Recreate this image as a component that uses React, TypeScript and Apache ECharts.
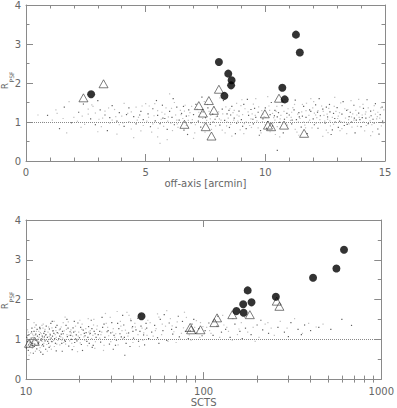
import React, { useEffect, useRef } from "react";
import * as echarts from "echarts";

// ---------- data ----------
const topXTicks = [0, 5, 10, 15];
const topYTicks = [0, 1, 2, 3, 4];
const bottomXTicks = [10, 100, 1000];
const logMinorTicks = [20, 30, 40, 50, 60, 70, 80, 90, 200, 300, 400, 500, 600, 700, 800, 900];

// top panel: off-axis [arcmin] vs R_PSF
const topCircles = [
  [2.72, 1.71], [8.06, 2.54], [8.45, 2.24], [8.59, 2.07], [8.57, 1.94], [8.29, 1.67],
  [11.28, 3.24], [11.44, 2.78], [10.71, 1.88], [10.81, 1.58],
];
const topTriangles = [
  [2.4, 1.62], [3.24, 1.98], [6.62, 0.94], [7.22, 1.42], [7.64, 1.55], [7.39, 1.23],
  [7.85, 1.3], [7.51, 0.88], [7.75, 0.64], [8.06, 1.84], [9.98, 1.21], [10.11, 0.92],
  [10.24, 0.88], [10.57, 1.61], [10.78, 0.92], [11.62, 0.71],
];
const topDotsDark = [
  [0.9, 1.17], [1.4, 0.83], [1.6, 1.38], [1.9, 0.98], [2.2, 1.25], [2.4, 1.46],
  [2.7, 1.08], [2.9, 0.93], [3.1, 1.31], [3.3, 1.18], [3.4, 0.78], [3.6, 1.42], [3.8, 1.02], [3.9, 1.24],
  [4.1, 0.89], [4.3, 1.36], [4.5, 1.14], [4.6, 0.95], [4.8, 1.27], [4.9, 1.06], [3.0, 1.55], [4.2, 1.19], [3.5, 1.11],
  [5.1, 1.21], [5.2, 0.88], [5.3, 1.34], [5.4, 1.03], [5.5, 1.17], [5.6, 0.96], [5.7, 1.43], [5.8, 1.09],
  [5.9, 0.81], [6.0, 1.27], [6.1, 1.12], [6.2, 0.93], [6.3, 1.38], [6.4, 1.05], [6.5, 1.22], [6.6, 0.79],
  [6.7, 1.15], [6.8, 1.31], [6.9, 0.98], [7.0, 1.19], [7.1, 1.45], [7.2, 1.02], [7.3, 0.87], [7.4, 1.26],
  [7.5, 1.11], [7.6, 1.36], [7.7, 0.94], [7.8, 1.2], [7.9, 1.07], [5.45, 1.55], [6.15, 1.6], [6.75, 0.68], [7.35, 1.64],
  [8.0, 1.15], [8.1, 0.92], [8.2, 1.33], [8.3, 1.04], [8.4, 1.21], [8.5, 0.86], [8.6, 1.4], [8.7, 1.1],
  [8.8, 0.97], [8.9, 1.28], [9.0, 1.06], [9.1, 1.45], [9.2, 0.83], [9.3, 1.17], [9.4, 1.32], [9.5, 0.95],
  [9.6, 1.12], [9.7, 1.25], [9.8, 0.78], [9.9, 1.08], [10.0, 1.36], [10.1, 1.01], [10.2, 1.19], [10.3, 0.9],
  [10.4, 1.3], [10.5, 1.13], [10.6, 0.99], [10.7, 1.42], [10.8, 1.07], [10.9, 1.22], [8.25, 1.55], [8.75, 0.7],
  [9.25, 1.58], [9.75, 0.66], [10.25, 1.5], [10.75, 0.72], [10.5, 0.27], [8.55, 1.18], [9.05, 0.89], [9.55, 1.35],
  [10.05, 0.84], [10.55, 1.24],
  [11.0, 1.18], [11.1, 0.95], [11.2, 1.31], [11.3, 1.06], [11.4, 1.24], [11.5, 0.87], [11.6, 1.4], [11.7, 1.12],
  [11.8, 0.99], [11.9, 1.27], [12.0, 1.08], [12.1, 1.44], [12.2, 0.84], [12.3, 1.16], [12.4, 1.33], [12.5, 0.97],
  [12.6, 1.13], [12.7, 1.26], [12.8, 0.8], [12.9, 1.09], [13.0, 1.37], [13.1, 1.02], [13.2, 1.2], [13.3, 0.91],
  [13.4, 1.3], [13.5, 1.14], [13.6, 1.0], [13.7, 1.43], [13.8, 1.05], [13.9, 1.23], [14.0, 0.88], [14.1, 1.35],
  [14.2, 1.1], [14.3, 0.96], [14.4, 1.28], [14.5, 1.07], [14.6, 1.47], [14.7, 0.82], [14.8, 1.19], [14.9, 1.02],
  [11.25, 1.56], [11.75, 0.7], [12.25, 1.6], [12.75, 0.68], [13.25, 1.52], [13.75, 0.72], [14.25, 1.57], [14.75, 0.69],
  [11.55, 1.15], [12.05, 0.93], [12.55, 1.38], [13.05, 0.86], [13.55, 1.25], [14.05, 1.11], [14.55, 0.98],
  [12.85, 1.22], [13.95, 1.06], [11.85, 1.31],
  [9.48, 1.07], [10.38, 1.16], [11.42, 1.13], [12.18, 1.25], [12.92, 1.0], [13.72, 1.1], [14.42, 1.16], [14.88, 1.38],
  [11.12, 1.05], [12.68, 1.45], [13.42, 0.94], [8.48, 1.3], [7.82, 1.0], [6.58, 1.4], [5.72, 1.1], [4.75, 1.18],
];
const topDotsLight = [
  [0.5, 1.18], [1.1, 1.05], [1.3, 1.22], [1.7, 0.72], [2.0, 1.12], [2.3, 0.86], [2.6, 1.33], [1.8, 1.52], [0.7, 0.99],
  [2.6, 1.2], [2.8, 1.4], [3.0, 0.75], [3.2, 1.1], [3.3, 1.28], [3.5, 0.97], [3.7, 1.32], [3.8, 0.69], [4.0, 1.15],
  [4.1, 1.48], [4.3, 1.01], [4.4, 0.82], [4.6, 1.38], [4.7, 1.12], [4.9, 0.91], [5.0, 1.47], [2.9, 1.23], [3.6, 1.05],
  [4.4, 1.26], [4.8, 0.77], [3.9, 0.93], [4.5, 0.6], [5.6, 0.45], [5.9, 0.55],
  [1.25, 1.31], [2.15, 1.02], [2.45, 0.94], [2.75, 1.44], [3.15, 0.88], [3.45, 1.36], [3.75, 1.14], [4.05, 0.98],
  [4.25, 1.22], [4.65, 1.05], [4.85, 1.41], [3.05, 1.07], [2.35, 1.15], [1.55, 1.09],
  [5.05, 1.02], [5.15, 1.41], [5.25, 0.74], [5.35, 1.16], [5.5, 1.29], [5.65, 1.07], [5.75, 0.89], [5.85, 1.36],
  [5.95, 1.13], [6.05, 0.97], [6.2, 1.5], [6.25, 1.18], [6.35, 0.86], [6.45, 1.3], [6.55, 1.09], [6.65, 1.43],
  [6.7, 0.91], [6.85, 1.24], [6.95, 1.06], [7.05, 0.72], [7.15, 1.33], [7.25, 1.15], [7.4, 0.98], [7.45, 1.52],
  [7.55, 1.04], [7.65, 1.27], [7.75, 0.81], [7.85, 1.39], [7.95, 1.14], [5.3, 0.95], [5.8, 1.2], [6.3, 1.05],
  [6.8, 1.16], [7.3, 1.23], [7.7, 1.08], [6.0, 1.72], [7.0, 0.58], [5.5, 0.62],
  [5.12, 1.12], [5.38, 1.47], [5.52, 0.84], [5.68, 1.25], [5.92, 1.02], [6.08, 1.35], [6.32, 0.95], [6.48, 1.19],
  [6.62, 1.28], [6.78, 1.04], [6.92, 1.4], [7.08, 0.93], [7.22, 1.25], [7.38, 1.09], [7.58, 1.45], [7.72, 1.17],
  [7.92, 0.9], [6.12, 0.78], [7.48, 0.74],
  [8.05, 1.26], [8.15, 1.05], [8.2, 0.79], [8.35, 1.39], [8.45, 1.1], [8.55, 0.94], [8.65, 1.24], [8.8, 1.48],
  [8.85, 1.02], [8.95, 0.8], [9.05, 1.19], [9.15, 1.34], [9.2, 1.0], [9.35, 0.91], [9.45, 1.21], [9.5, 1.46],
  [9.65, 1.03], [9.7, 0.85], [9.85, 1.29], [9.95, 1.14], [10.0, 0.93], [10.15, 1.41], [10.2, 0.75], [10.35, 1.11],
  [10.45, 1.27], [10.5, 0.88], [10.65, 1.17], [10.7, 1.53], [10.85, 0.96], [10.95, 1.34], [8.1, 1.62], [8.6, 0.64],
  [9.1, 0.7], [9.6, 1.6], [10.1, 1.65], [10.6, 0.62], [8.4, 1.0], [8.9, 1.15], [9.4, 1.08], [9.9, 1.2],
  [10.4, 1.05], [10.9, 1.12], [9.3, 0.98], [8.7, 1.3], [10.3, 1.22],
  [8.08, 1.08], [8.22, 1.21], [8.38, 0.9], [8.52, 1.34], [8.68, 1.05], [8.82, 1.18], [8.98, 1.42], [9.12, 0.96],
  [9.28, 1.26], [9.42, 0.86], [9.58, 1.17], [9.72, 1.39], [9.88, 1.01], [10.02, 1.12], [10.18, 1.3], [10.32, 0.97],
  [10.48, 1.4], [10.62, 1.08], [10.78, 1.27], [10.92, 0.92], [8.32, 0.72], [9.82, 0.72], [10.42, 0.68], [9.02, 1.57],
  [10.82, 1.58],
  [11.05, 1.04], [11.15, 1.37], [11.25, 0.81], [11.35, 1.2], [11.45, 1.09], [11.55, 1.45], [11.65, 0.92], [11.7, 1.29],
  [11.85, 1.05], [11.95, 0.85], [12.05, 1.23], [12.15, 1.11], [12.3, 0.98], [12.35, 1.41], [12.45, 1.17], [12.55, 0.79],
  [12.65, 1.35], [12.7, 1.03], [12.85, 0.94], [12.95, 1.27], [13.05, 1.15], [13.15, 1.49], [13.2, 0.83], [13.35, 1.1],
  [13.45, 1.32], [13.5, 0.95], [13.65, 1.21], [13.7, 1.05], [13.85, 0.89], [13.95, 1.39], [14.05, 1.18], [14.15, 0.77],
  [14.2, 1.26], [14.35, 1.12], [14.45, 0.93], [14.55, 1.42], [14.65, 1.08], [14.7, 1.25], [14.85, 0.9], [14.95, 1.31],
  [11.4, 0.66], [11.9, 1.6], [12.4, 0.63], [12.9, 1.63], [13.4, 0.7], [13.9, 1.58], [14.4, 0.65], [14.9, 1.5],
  [11.6, 1.0], [12.1, 1.18], [12.6, 1.07], [13.1, 1.24], [13.6, 1.13], [14.1, 1.0], [14.6, 1.2], [12.2, 1.29],
  [13.3, 1.0], [14.3, 1.36], [11.1, 1.25], [12.8, 1.12],
  [11.08, 1.12], [11.22, 1.45], [11.38, 1.0], [11.52, 1.26], [11.68, 0.85], [11.82, 1.17], [11.98, 1.36], [12.12, 0.97],
  [12.28, 1.06], [12.42, 1.27], [12.58, 1.2], [12.72, 0.9], [12.88, 1.4], [13.02, 1.09], [13.18, 1.0], [13.32, 1.34],
  [13.48, 1.06], [13.62, 0.87], [13.78, 1.3], [13.92, 1.12], [14.08, 1.45], [14.22, 0.91], [14.38, 1.03], [14.52, 1.3],
  [14.68, 1.14], [14.82, 1.36], [14.92, 0.97], [11.32, 0.74], [12.62, 0.73], [13.58, 1.55], [14.48, 0.75], [12.02, 1.52],
  [11.72, 1.48], [13.12, 0.78], [14.78, 1.1], [12.48, 1.02], [13.82, 1.18], [14.18, 1.2],
];

// bottom panel: SCTS vs R_PSF
const bottomCircles = [
  [44.7, 1.58], [177, 2.23], [167, 1.88], [186, 1.93], [153, 1.71], [168, 1.67],
  [255, 2.07], [413, 2.55], [559, 2.78], [617, 3.25],
];
const bottomTriangles = [
  [10.4, 0.9], [11.2, 0.95], [84, 1.3], [85, 1.24], [96, 1.24], [115, 1.42], [119, 1.54],
  [145, 1.62], [182, 1.62], [258, 1.96], [267, 1.83],
];
const bottomDotsDark = [
  [10.2, 0.95], [10.4, 1.12], [10.5, 0.82], [10.7, 1.03], [10.9, 0.9], [11.1, 1.2], [11.3, 0.98], [11.5, 0.76],
  [11.6, 1.08], [11.8, 0.93], [12.0, 1.27], [12.2, 1.01], [12.4, 0.87], [12.6, 1.15], [12.8, 0.96], [13.0, 1.33],
  [13.2, 1.05], [13.5, 0.8], [13.7, 1.11], [14.0, 0.94], [14.2, 1.22], [14.5, 1.02], [14.8, 0.71], [15.0, 1.17],
  [10.3, 0.72], [10.8, 1.28], [11.4, 1.36], [12.1, 0.68], [12.9, 0.75], [13.8, 1.4], [10.1, 1.05], [10.6, 0.99],
  [11.2, 0.88], [11.9, 1.12], [12.7, 1.06], [13.4, 0.9], [14.1, 1.08], [14.7, 1.3], [10.35, 0.86], [11.7, 1.0],
  [15.3, 1.02], [15.6, 1.26], [15.9, 0.9], [16.2, 1.14], [16.5, 0.98], [16.8, 1.35], [17.1, 1.07], [17.4, 0.83],
  [17.7, 1.19], [18.0, 1.0], [18.4, 1.29], [18.8, 0.92], [19.2, 1.11], [19.6, 1.41], [20.0, 1.04], [20.5, 0.87],
  [21.0, 1.23], [21.5, 1.09], [22.0, 0.95], [22.5, 1.32], [23.0, 1.15], [23.6, 0.8], [24.2, 1.2], [24.8, 1.05],
  [16.0, 0.7], [18.2, 0.74], [20.8, 0.72], [23.3, 1.48], [17.0, 1.5], [19.0, 1.01], [21.8, 1.17], [15.8, 1.13], [22.7, 0.9],
  [25.5, 1.12], [26.3, 0.93], [27.0, 1.3], [27.8, 1.05], [28.6, 1.19], [29.5, 0.88], [30.4, 1.42], [31.3, 1.1],
  [32.3, 0.98], [33.3, 1.27], [34.4, 1.06], [35.5, 1.36], [36.6, 0.9], [37.8, 1.16], [39.0, 1.47], [40.3, 1.03],
  [41.6, 1.24], [43.0, 0.95], [44.4, 1.33], [45.9, 1.11], [47.4, 1.4], [49.0, 1.02], [26.8, 1.55], [31.0, 0.75],
  [35.0, 1.6], [38.5, 0.82], [42.5, 1.53], [46.5, 0.86], [29.0, 1.22], [33.8, 1.14], [40.0, 1.2], [36.0, 0.6],
  [51, 1.18], [53, 1.35], [55, 1.04], [57, 1.5], [59, 1.22], [62, 0.97], [64, 1.41], [67, 1.13], [70, 1.3],
  [73, 1.06], [76, 1.45], [79, 1.2], [82, 1.02], [86, 1.38], [90, 1.15], [94, 1.27], [98, 1.09], [60, 1.62],
  [72, 1.58], [88, 1.5], [56, 0.9], [66, 1.25], [84, 1.21],
  [102, 1.22], [107, 1.41], [113, 1.1], [119, 1.33], [126, 1.18], [133, 1.25], [141, 1.05], [150, 1.38],
  [160, 1.2], [172, 1.28], [185, 1.12], [200, 1.36], [215, 1.24], [232, 1.15], [120, 1.58], [165, 1.02], [210, 1.48],
  [262, 1.3], [285, 1.18], [310, 1.42], [340, 1.25], [370, 1.36], [400, 1.22], [445, 1.3], [520, 1.25],
  [600, 1.5], [680, 1.35], [300, 1.07], [355, 1.12],
  [10.25, 1.1], [10.55, 0.93], [10.75, 1.19], [10.95, 1.04], [11.15, 0.82], [11.35, 1.13], [11.55, 1.25], [11.75, 0.9],
  [11.95, 1.3], [12.15, 0.97], [12.35, 1.08], [12.55, 0.83], [12.75, 1.2], [12.95, 1.12], [13.25, 0.95], [13.55, 1.26],
  [13.85, 1.03], [14.35, 1.15], [14.65, 0.9], [14.95, 1.35], [15.45, 1.08], [16.05, 1.2], [16.65, 0.95], [17.25, 1.28],
  [17.85, 1.1], [18.55, 1.18], [19.35, 0.96], [20.3, 1.3], [21.3, 1.15], [22.3, 1.05], [23.5, 1.27], [24.5, 1.14],
  [26.0, 1.2], [27.5, 1.38], [30.0, 1.16], [32.8, 1.4], [35.8, 1.05], [39.8, 1.32], [43.8, 1.2], [47.8, 1.28],
  [10.05, 0.78], [11.0, 0.65], [12.45, 0.62], [14.05, 1.45], [18.7, 1.45], [23.9, 0.85], [31.9, 0.85],
];
const bottomDotsLight = [
  [10.1, 0.84], [10.3, 1.18], [10.5, 1.0], [10.6, 0.66], [10.8, 0.93], [11.0, 1.09], [11.2, 1.3], [11.4, 0.85],
  [11.6, 0.97], [11.8, 1.2], [12.0, 0.79], [12.2, 1.14], [12.4, 1.04], [12.6, 0.9], [12.8, 1.25], [13.0, 0.99],
  [13.3, 1.18], [13.5, 1.07], [13.7, 0.83], [14.0, 1.29], [14.3, 0.97], [14.6, 1.12], [14.9, 0.88], [10.4, 0.6],
  [11.1, 1.42], [11.9, 0.72], [12.5, 1.38], [13.2, 0.7], [14.4, 1.45], [10.2, 1.24], [10.9, 1.13], [12.3, 0.95],
  [13.6, 1.0], [14.8, 1.05],
  [15.2, 1.15], [15.5, 0.86], [15.8, 1.31], [16.1, 1.03], [16.4, 1.21], [16.7, 0.88], [17.0, 1.12], [17.3, 1.44],
  [17.6, 0.96], [17.9, 1.24], [18.3, 1.08], [18.6, 0.82], [19.0, 1.33], [19.4, 1.0], [19.8, 1.18], [20.2, 0.91],
  [20.7, 1.38], [21.2, 1.06], [21.7, 1.27], [22.2, 0.84], [22.8, 1.13], [23.4, 1.02], [24.0, 1.36], [24.6, 0.94],
  [16.6, 1.56], [19.5, 0.69], [22.4, 1.52], [24.4, 0.77], [18.0, 1.16], [20.4, 1.12], [23.0, 1.22], [15.9, 0.98],
  [25.2, 1.34], [26.0, 1.03], [26.7, 1.18], [27.5, 0.85], [28.3, 1.4], [29.2, 1.09], [30.0, 0.94], [31.0, 1.27],
  [32.0, 1.14], [33.0, 0.86], [34.0, 1.45], [35.2, 1.02], [36.3, 1.23], [37.5, 1.08], [38.8, 1.51], [40.0, 0.92],
  [41.3, 1.31], [42.7, 1.12], [44.0, 1.62], [45.5, 0.98], [47.0, 1.25], [48.5, 1.48], [28.0, 1.65], [32.6, 1.7],
  [37.0, 1.68], [43.5, 0.82], [27.3, 0.72], [30.7, 1.18], [39.5, 1.29], [46.0, 1.16], [34.7, 1.22],
  [50, 1.42], [52, 1.08], [54, 1.27], [56, 1.56], [58, 1.12], [61, 1.33], [63, 0.95], [65, 1.52], [68, 1.19],
  [71, 1.44], [74, 1.0], [77, 1.29], [80, 1.55], [83, 1.11], [87, 1.24], [91, 1.47], [95, 1.05], [99, 1.32],
  [62, 1.72], [78, 1.68], [92, 1.16], [70, 0.92], [85, 0.98], [96, 1.42],
  [104, 1.3], [110, 1.15], [116, 1.47], [123, 1.05], [130, 1.36], [138, 1.2], [146, 1.52], [155, 1.12],
  [163, 1.42], [177, 1.18], [190, 1.3], [205, 1.05], [222, 1.38], [240, 1.28], [145, 0.98], [195, 0.95],
  [128, 1.6], [170, 1.55],
  [270, 1.45], [295, 1.28], [325, 1.52], [360, 1.15], [390, 1.4], [430, 1.31], [470, 1.38], [250, 1.1],
  [10.15, 1.02], [10.45, 0.9], [10.65, 1.15], [10.85, 0.78], [11.05, 0.96], [11.25, 1.1], [11.45, 1.2], [11.65, 0.88],
  [11.85, 1.05], [12.05, 1.17], [12.25, 0.84], [12.45, 1.28], [12.65, 1.0], [12.85, 1.1], [13.1, 0.87], [13.4, 1.31],
  [13.65, 1.14], [13.9, 0.95], [14.15, 1.2], [14.45, 0.82], [14.75, 1.22], [15.1, 0.97], [15.4, 1.24], [15.7, 1.06],
  [16.3, 0.92], [16.9, 1.25], [17.5, 1.1], [18.1, 0.9], [18.9, 1.2], [19.7, 1.08], [20.6, 1.25], [21.4, 0.98],
  [22.6, 1.18], [23.8, 1.1], [25.0, 1.25], [26.4, 1.12], [28.8, 1.3], [31.6, 1.05], [34.2, 1.33], [36.9, 1.15],
  [41.0, 1.4], [45.0, 1.28], [48.0, 1.1], [53.5, 1.22], [58.5, 1.38], [66.5, 1.34], [75, 1.15], [89, 1.3],
  [108, 1.22], [135, 1.3], [158, 1.26], [230, 1.42], [12.3, 1.35], [11.3, 0.7], [13.9, 0.75], [16.2, 1.42],
  [20.1, 1.48], [24.1, 1.5], [29.8, 1.55], [38.0, 1.6], [55.0, 1.64],
];
const referenceLevel = 1;

// ---------- styling ----------
const FONT = "DejaVu Sans";
const TEXT = "#666";
const FRAME = "#8a8a8a";

export default function App() {
  const ref = useRef<HTMLDivElement>(null);

  useEffect(() => {
    if (!ref.current) return;
    const chart = echarts.init(ref.current, undefined, { renderer: "svg" });

    const label = { color: TEXT, fontSize: 10, fontFamily: FONT };
    const line = { show: true, lineStyle: { color: FRAME, width: 1 } };
    const tick = { show: true, inside: true, length: 7, lineStyle: { color: FRAME, width: 1 } };
    const minor = { show: true, length: 3.5, lineStyle: { color: FRAME, width: 1 } };

    const linX = (gridIndex: number, position: string, showLabel: boolean, name?: string) => ({
      type: "value", gridIndex, position, min: topXTicks[0], max: topXTicks[topXTicks.length - 1], interval: 5,
      axisLine: { ...line, onZero: false }, axisTick: tick,
      minorTick: { ...minor, splitNumber: 5 },
      axisLabel: { show: showLabel, ...label, margin: 6 },
      splitLine: { show: false }, minorSplitLine: { show: false },
      name, nameLocation: "middle", nameGap: 17,
      nameTextStyle: { ...label },
    });
    const logX = (gridIndex: number, position: string, showLabel: boolean, name?: string) => ({
      type: "log", logBase: 10, gridIndex, position, min: bottomXTicks[0], max: bottomXTicks[bottomXTicks.length - 1],
      axisLine: { ...line, onZero: false }, axisTick: tick,
      axisLabel: { show: showLabel, ...label, margin: 7, formatter: (v: number) => String(Math.round(v)) },
      splitLine: { show: false },
      name, nameLocation: "middle", nameGap: 16,
      nameTextStyle: { ...label },
    });
    const logMinor = (gridIndex: number, position: string) => ({
      type: "log", logBase: 10, gridIndex, position, min: bottomXTicks[0], max: bottomXTicks[bottomXTicks.length - 1],
      axisLine: { show: false },
      axisTick: { show: true, inside: true, length: 3.5, customValues: logMinorTicks, lineStyle: { color: FRAME, width: 1 } },
      axisLabel: { show: false },
      splitLine: { show: false },
    });
    const yAx = (gridIndex: number, position: string, showLabel: boolean) => ({
      type: "value", gridIndex, position, min: topYTicks[0], max: topYTicks[topYTicks.length - 1], interval: 1,
      axisLine: { ...line, onZero: false }, axisTick: tick,
      minorTick: { ...minor, splitNumber: 2 },
      axisLabel: { show: showLabel, ...label, margin: 5 },
      splitLine: { show: false }, minorSplitLine: { show: false },
    });

    const dots = (data: number[][], color: string, xi: number, yi: number, withRef = false) => ({
      type: "scatter", xAxisIndex: xi, yAxisIndex: yi, data, symbol: "rect", symbolSize: 1.2,
      itemStyle: { color }, silent: true, z: 1,
      markLine: withRef ? {
        silent: true, symbol: "none", label: { show: false },
        lineStyle: { type: "dotted", color: "#888", width: 1 },
        data: [{ yAxis: referenceLevel }],
      } : undefined,
    });
    const circles = (data: number[][], xi: number, yi: number) => ({
      type: "scatter", xAxisIndex: xi, yAxisIndex: yi, data, symbol: "circle", symbolSize: 8,
      itemStyle: { color: "#000" }, silent: true, z: 4,
    });
    const tris = (data: number[][], xi: number, yi: number) => ({
      type: "scatter", xAxisIndex: xi, yAxisIndex: yi, data, symbol: "triangle", symbolSize: [9, 8],
      itemStyle: { color: "rgba(255,255,255,0)", borderColor: "#333", borderWidth: 0.8 }, silent: true, z: 3,
    });

    const rLabel = (cy: number) => ({
      type: "group",
      children: [
        { type: "text", x: 5, y: cy + 5, rotation: Math.PI / 2,
          style: { text: "R", fontSize: 9, fontFamily: FONT, fill: TEXT, align: "center", verticalAlign: "middle" } },
        { type: "text", x: 11, y: cy - 4, rotation: Math.PI / 2,
          style: { text: "PSF", fontSize: 6, fontFamily: FONT, fill: TEXT, align: "center", verticalAlign: "middle" } },
      ],
    });

    chart.setOption({
      animation: false,
      backgroundColor: "#fff",
      grid: [
        { left: 26, top: 1, width: 359, height: 160 },
        { left: 26, top: 220, width: 359, height: 160 },
      ],
      xAxis: [
        linX(0, "bottom", true, "off-axis [arcmin]"),
        linX(0, "top", false),
        logX(1, "bottom", true, "SCTS"),
        logX(1, "top", false),
        logMinor(1, "bottom"),
        logMinor(1, "top"),
      ],
      yAxis: [
        yAx(0, "left", true),
        yAx(0, "right", false),
        yAx(1, "left", true),
        yAx(1, "right", false),
      ],
      graphic: [rLabel(81), rLabel(301)],
      series: [
        dots(topDotsLight, "#b0b0b0", 0, 0, true),
        dots(topDotsDark, "#3a3a3a", 0, 0),
        tris(topTriangles, 0, 0),
        circles(topCircles, 0, 0),
        dots(bottomDotsLight, "#b0b0b0", 2, 2, true),
        dots(bottomDotsDark, "#3a3a3a", 2, 2),
        tris(bottomTriangles, 2, 2),
        circles(bottomCircles, 2, 2),
      ],
    });
    return () => chart.dispose();
  }, []);

  return (
    <div
      ref={ref}
      style={{ position: "fixed", left: 0, top: 0, width: 397, height: 408, background: "#fff" }}
    />
  );
}
